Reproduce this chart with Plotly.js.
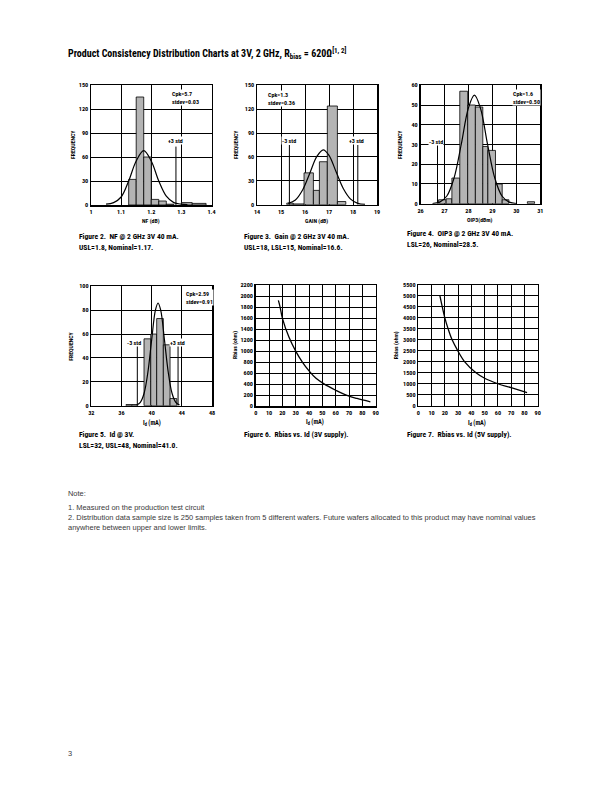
<!DOCTYPE html>
<html><head><meta charset="utf-8">
<script src="https://cdn.plot.ly/plotly-3.0.1.min.js"></script>
<style>html,body{margin:0;padding:0;background:#fff;}#chart{width:612px;height:792px;}</style>
</head><body><div id="chart"></div>
<script>
// ---------- DATA ----------
// Figure 2: NF histogram
const nfBinLo  = [1.125, 1.15, 1.175, 1.2, 1.225, 1.25, 1.30, 1.336];
const nfBinHi  = [1.15, 1.175, 1.2, 1.225, 1.25, 1.275, 1.336, 1.382];
const nfCounts = [32, 135, 60, 7, 5, 1, 3, 2];
const nfCurveX = [1.05, 1.075, 1.10, 1.125, 1.15, 1.175, 1.20, 1.225, 1.25, 1.275, 1.30, 1.32];
const nfCurveY = [1, 3, 10, 30, 55, 68, 55, 30, 11, 3, 1, 0.5];
const nfStd = {plus: 1.282};
// Figure 3: Gain histogram
const gainBinLo  = [15.24, 15.51, 15.96, 16.35, 16.6, 16.93, 17.35];
const gainBinHi  = [15.51, 15.96, 16.35, 16.6, 16.93, 17.35, 17.7];
const gainCounts = [2, 1, 40, 18, 54, 124, 4];
const gainCurveX = [15.3, 15.6, 15.9, 16.2, 16.5, 16.76, 17.0, 17.3, 17.6, 17.9, 18.2, 18.5];
const gainCurveY = [1.6, 6, 18.5, 39.5, 61, 69, 62, 41, 20, 7, 1.7, 0.3];
const gainStd = {minus: 15.35, plus: 18.2};
// Figure 4: OIP3 histogram
const oipBinLo  = [26.755, 27.07, 27.31, 27.64, 27.97, 28.29, 28.6, 28.81, 29.13, 29.41, 30.46];
const oipBinHi  = [27.07, 27.31, 27.64, 27.97, 28.29, 28.6, 28.81, 29.13, 29.41, 29.69, 30.76];
const oipCounts = [2, 2.5, 13, 57, 50, 49, 29, 27, 10, 2, 1];
const oipCurveX = [26.5, 26.8, 27.1, 27.4, 27.7, 28.0, 28.25, 28.5, 28.8, 29.1, 29.4, 29.7, 30.0];
const oipCurveY = [0.1, 0.8, 3.9, 13, 30, 48.5, 55, 48.5, 30, 13, 3.9, 0.8, 0.1];
const oipStd = {minus: 26.71};
// Figure 5: Id histogram
const idBinLo  = [36.6, 37.37, 38.99, 39.88, 40.67, 41.55, 42.44];
const idBinHi  = [37.37, 38.15, 39.88, 40.67, 41.55, 42.44, 43.33];
const idCounts = [1, 1, 56, 60, 73, 51, 6];
const idCurveX = [38.0, 38.5, 39.0, 39.5, 40.0, 40.5, 40.85, 41.2, 41.7, 42.2, 42.7, 43.2, 43.7];
const idCurveY = [0.6, 2.8, 10.4, 28, 55, 80, 86, 80, 55, 28, 10.4, 2.8, 0.6];
const idStd = {minus: 38.1, plus: 43.5};
// Figure 6: Rbias vs Id, 3V
const r3Id = [17, 18.3, 20, 25, 30, 35, 40, 45, 51.5, 60, 68, 76, 86];
const r3R  = [1920, 1800, 1600, 1250, 1000, 800, 640, 510, 400, 290, 200, 140, 80];
// Figure 7: Rbias vs Id, 5V
const r5Id = [16.3, 20, 22.5, 25.5, 29.8, 35, 43.5, 50, 60, 70, 82];
const r5R  = [5000, 4000, 3500, 3000, 2500, 2000, 1500, 1250, 1000, 820, 600];

// ---------- LAYOUT HELPERS ----------
const W = 612, H = 792;
const px = x => x / W, py = y => 1 - y / H;
const CF = "'Roboto Condensed', Roboto, sans-serif";
const NF = "'Liberation Sans', Arial, sans-serif";

function xax(l, r, range, dtick, anchor) {
  return {domain: [px(l), px(r)], range: range, dtick: dtick, tick0: range[0], anchor: anchor,
    showgrid: true, gridcolor: '#000', gridwidth: 1, showline: true, linecolor: '#000', linewidth: 1.5,
    mirror: true, zeroline: false, ticks: '', fixedrange: true,
    tickfont: {family: CF, size: 6.2, color: '#000', weight: 'bold'}};
}
function yax(t, b, range, dtick, anchor) {
  const a = xax(0, 1, range, dtick, anchor);
  a.domain = [py(b), py(t)];
  return a;
}
function bars(lo, hi, c, xa, ya) {
  return {type: 'bar', x: lo.map((v, i) => (v + hi[i]) / 2), y: c, width: lo.map((v, i) => hi[i] - v),
    marker: {color: '#b4b4b4', line: {color: '#000', width: 0.8}}, xaxis: xa, yaxis: ya,
    hoverinfo: 'skip', showlegend: false};
}
function curve(x, y, xa, ya, w) {
  return {type: 'scatter', mode: 'lines', x: x, y: y, line: {color: '#000', width: w || 1.2, shape: 'spline', smoothing: 1},
    xaxis: xa, yaxis: ya, hoverinfo: 'skip', showlegend: false};
}
const shapes = [];
const ann = [];
function stdLine(xv, top, xr, yr) {
  shapes.push({type: 'line', xref: xr, yref: yr, x0: xv, x1: xv, y0: 0, y1: top, line: {color: '#000', width: 1}});
}
function txt(x, y, s, size, opts) {
  opts = opts || {};
  ann.push(Object.assign({xref: 'paper', yref: 'paper', x: px(x), y: py(y), text: s, showarrow: false,
    xanchor: 'left', yanchor: 'middle', font: {family: CF, size: size, color: '#000', weight: 'bold'}}, opts));
}
const BOX = {bgcolor: '#fff', borderpad: 0};

const data = [
  bars(nfBinLo, nfBinHi, nfCounts, 'x', 'y'), curve(nfCurveX, nfCurveY, 'x', 'y'),
  bars(gainBinLo, gainBinHi, gainCounts, 'x2', 'y2'), curve(gainCurveX, gainCurveY, 'x2', 'y2'),
  bars(oipBinLo, oipBinHi, oipCounts, 'x3', 'y3'), curve(oipCurveX, oipCurveY, 'x3', 'y3'),
  bars(idBinLo, idBinHi, idCounts, 'x4', 'y4'), curve(idCurveX, idCurveY, 'x4', 'y4'),
  curve(r3Id, r3R, 'x5', 'y5', 1.3), curve(r5Id, r5R, 'x6', 'y6', 1.3)
];

stdLine(nfStd.plus, 73, 'x', 'y');
stdLine(gainStd.minus, 75, 'x2', 'y2'); stdLine(gainStd.plus, 75, 'x2', 'y2');
stdLine(oipStd.minus, 30, 'x3', 'y3');
stdLine(idStd.minus, 50, 'x4', 'y4'); stdLine(idStd.plus, 50, 'x4', 'y4');

// Title
txt(66, 53, 'Product Consistency Distribution Charts at 3V, 2 GHz, R<sub>bias</sub> = 620Ω<sup>[1, 2]</sup>', 10);
// Chart 1 texts
const LS = 6, AT = 5.8, CAP = 7.6;
const CB = Object.assign({xanchor: 'center'}, BOX);
txt(171, 97, 'Cpk=5.7<br>stdev=0.03', LS, Object.assign({align: 'left'}, BOX));
txt(175, 141, '+3 std', LS, CB);
txt(73, 145, 'FREQUENCY', AT, {xanchor: 'center', textangle: -90});
txt(151, 222, 'NF (dB)', AT, {xanchor: 'center'});
txt(77, 236.5, 'Figure 2.  NF @ 2 GHz 3V 40 mA.', CAP);
txt(77, 247, 'USL=1.8, Nominal=1.17.', CAP);
// Chart 2 texts
txt(267, 98.6, 'Cpk=1.3<br>stdev=0.36', LS, Object.assign({align: 'left'}, BOX));
txt(289, 141, '-3 std', LS, CB);
txt(356, 141, '+3 std', LS, CB);
txt(236, 145, 'FREQUENCY', AT, {xanchor: 'center', textangle: -90});
txt(316, 222, 'GAIN (dB)', AT, {xanchor: 'center'});
txt(241.7, 236.5, 'Figure 3.  Gain @ 2 GHz 3V 40 mA.', CAP);
txt(241.7, 247, 'USL=18, LSL=15, Nominal=16.6.', CAP);
// Chart 3 texts
txt(512, 97.6, 'Cpk=1.6<br>stdev=0.50', LS, Object.assign({align: 'left'}, BOX));
txt(436, 141.5, '-3 std', LS, CB);
txt(400, 145, 'FREQUENCY', AT, {xanchor: 'center', textangle: -90});
txt(480, 221, 'OIP3(dBm)', AT, {xanchor: 'center'});
txt(405, 234, 'Figure 4.  OIP3 @ 2 GHz 3V 40 mA.', CAP);
txt(405, 244.5, 'LSL=26, Nominal=28.5.', CAP);
// Chart 4 texts
txt(184.7, 297.2, 'Cpk=2.59<br>stdev=0.91', LS, Object.assign({align: 'left'}, BOX));
txt(134, 342.5, '-3 std', LS, CB);
txt(177.5, 342.5, '+3 std', LS, CB);
txt(70.7, 346, 'FREQUENCY', AT, {xanchor: 'center', textangle: -90});
txt(152, 423, 'I<sub>d</sub> (mA)', 6.3, {xanchor: 'center'});
txt(77, 435, 'Figure 5.  Id @ 3V.', CAP);
txt(77, 445.7, 'LSL=32, USL=48, Nominal=41.0.', CAP);
// Chart 5 texts
txt(236, 345, 'Rbias (ohm)', AT, {xanchor: 'center', textangle: -90});
txt(315, 422.5, 'I<sub>d</sub> (mA)', 6.3, {xanchor: 'center'});
txt(241.7, 434.7, 'Figure 6.  Rbias vs. Id (3V supply).', CAP);
// Chart 6 texts
txt(397.3, 345, 'Rbias (ohm)', AT, {xanchor: 'center', textangle: -90});
txt(477, 423, 'I<sub>d</sub> (mA)', 6.3, {xanchor: 'center'});
txt(405, 434.7, 'Figure 7.  Rbias vs. Id (5V supply).', CAP);
// Notes
const noteFont = {family: NF, size: 7.45, color: '#3a3a3a'};
txt(66, 493, 'Note:', 7.45, {font: noteFont});
txt(66, 507.5, '1. Measured on the production test circuit', 7.45, {font: noteFont});
txt(66, 517.5, '2. Distribution data sample size is 250 samples taken from 5 different wafers. Future wafers allocated to this product may have nominal values', 7.45, {font: noteFont});
txt(66, 527.5, 'anywhere between upper and lower limits.', 7.45, {font: noteFont});
txt(66, 753, '3', 7.45, {font: noteFont});

const layout = {
  width: W, height: H, margin: {l: 0, r: 0, t: 0, b: 0}, paper_bgcolor: '#fff', plot_bgcolor: '#fff',
  showlegend: false, barmode: 'overlay',
  xaxis: xax(91, 211.5, [1, 1.4], 0.1, 'y'),   yaxis: yax(85, 205, [0, 150], 30, 'x'),
  xaxis2: xax(257, 377, [14, 19], 1, 'y2'),    yaxis2: yax(85.3, 204.7, [0, 150], 30, 'x2'),
  xaxis3: xax(420.5, 540.3, [26, 31], 1, 'y3'), yaxis3: yax(85.3, 203.7, [0, 60], 10, 'x3'),
  xaxis4: xax(91.3, 212, [32, 48], 4, 'y4'),   yaxis4: yax(286.3, 405.7, [0, 100], 20, 'x4'),
  xaxis5: xax(255.7, 375.7, [0, 90], 10, 'y5'), yaxis5: yax(285, 406.2, [0, 2200], 200, 'x5'),
  xaxis6: xax(418.3, 537.7, [0, 90], 10, 'y6'), yaxis6: yax(285, 405.7, [0, 5500], 500, 'x6'),
  shapes: shapes, annotations: ann
};
Plotly.newPlot('chart', data, layout, {staticPlot: true, displayModeBar: false});
</script></body></html>
